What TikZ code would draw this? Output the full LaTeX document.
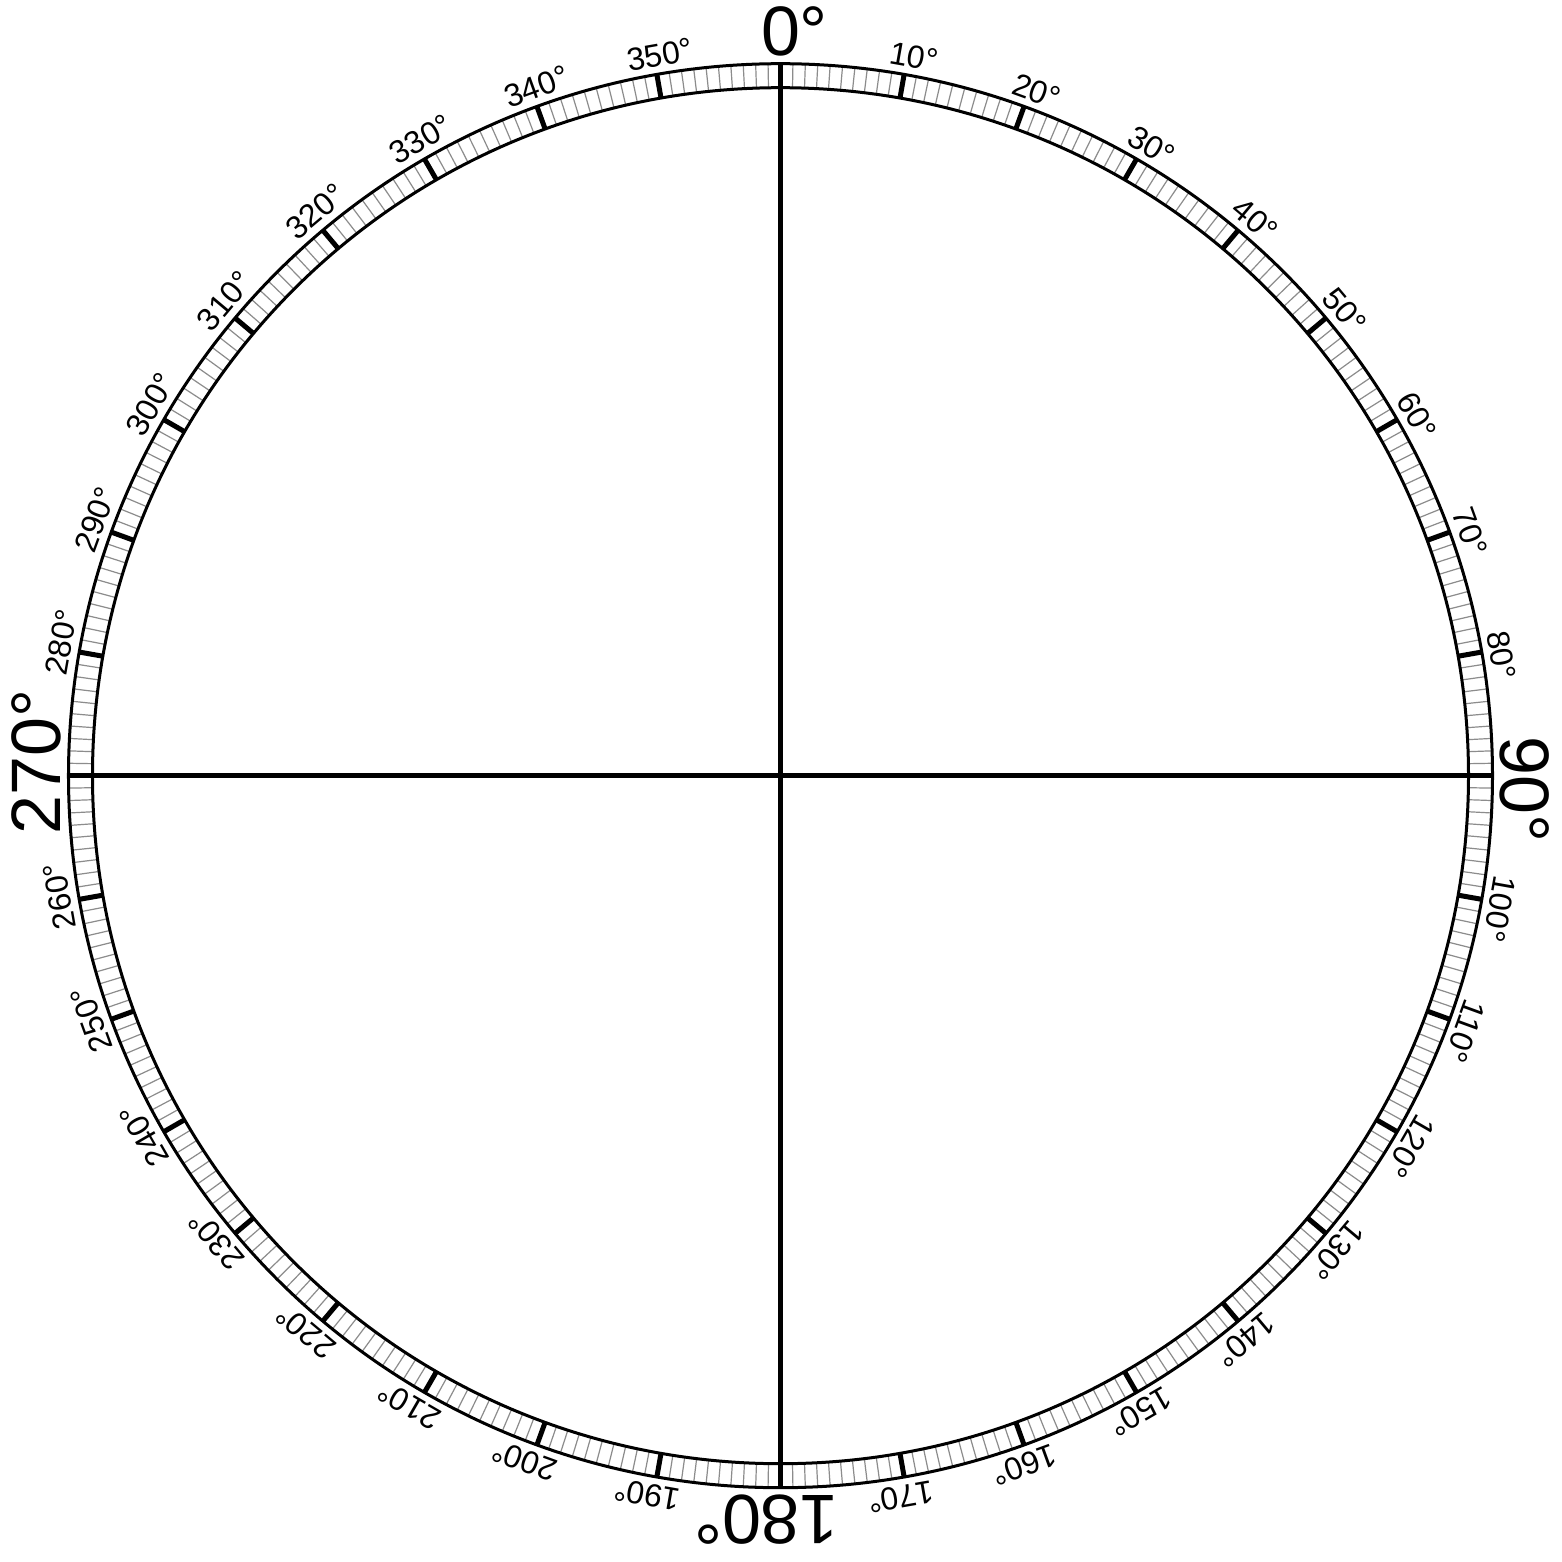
\documentclass[tikz,border=0pt]{standalone}
\usepackage{fontspec}
\setmainfont{Liberation Sans}
\begin{document}
\begin{tikzpicture}[x=1pt,y=1pt,
  minortick/.style={draw=black!45, line width=1.2pt},
  majortick/.style={draw=black, line width=5pt},
  ring/.style={draw=black, line width=3pt},
  axisline/.style={draw=black, line width=4.5pt},
  smalllabel/.style={font=\fontsize{32}{32}\selectfont, inner sep=0pt, anchor=base},
  biglabel/.style={font=\fontsize{70}{70}\selectfont, inner sep=0pt, anchor=base}]
\useasboundingbox (-780.5,-786.3) rectangle (781.5,775.7);
\fill[white] (-780.5,-786.3) rectangle (781.5,775.7);
% minor ticks every degree
\foreach \a in {0,...,359}{
  \draw[minortick] ({90-\a}:688) -- ({90-\a}:712);
}
% major ticks every ten degrees
\foreach \a in {0,10,...,350}{
  \draw[majortick] ({90-\a}:688) -- ({90-\a}:712);
}
% rings
\node[circle, ring, minimum size=1424pt, inner sep=0pt] (outer) at (0,0) {};
\node[circle, ring, minimum size=1376pt, inner sep=0pt] (inner) at (0,0) {};
% axes
\coordinate (O) at (0,0);
\coordinate (N) at (90:688);
\coordinate (S) at (270:688);
\coordinate (E) at (0:688);
\coordinate (W) at (180:688);
\draw[axisline] (N) -- (S);
\draw[axisline] (W) -- (E);
% labels
\foreach \a in {10,20,...,80,100,110,...,170,190,200,...,260,280,290,...,350}{
  \node[smalllabel, rotate=-\a] (l\a) at ({90-\a}:720) {\a\rlap{°}};
}
\foreach \a in {0,90,180,270}{
  \node[biglabel, rotate=-\a] (L\a) at ({90-\a}:720) {\a\rlap{°}};
}
\end{tikzpicture}
\end{document}
